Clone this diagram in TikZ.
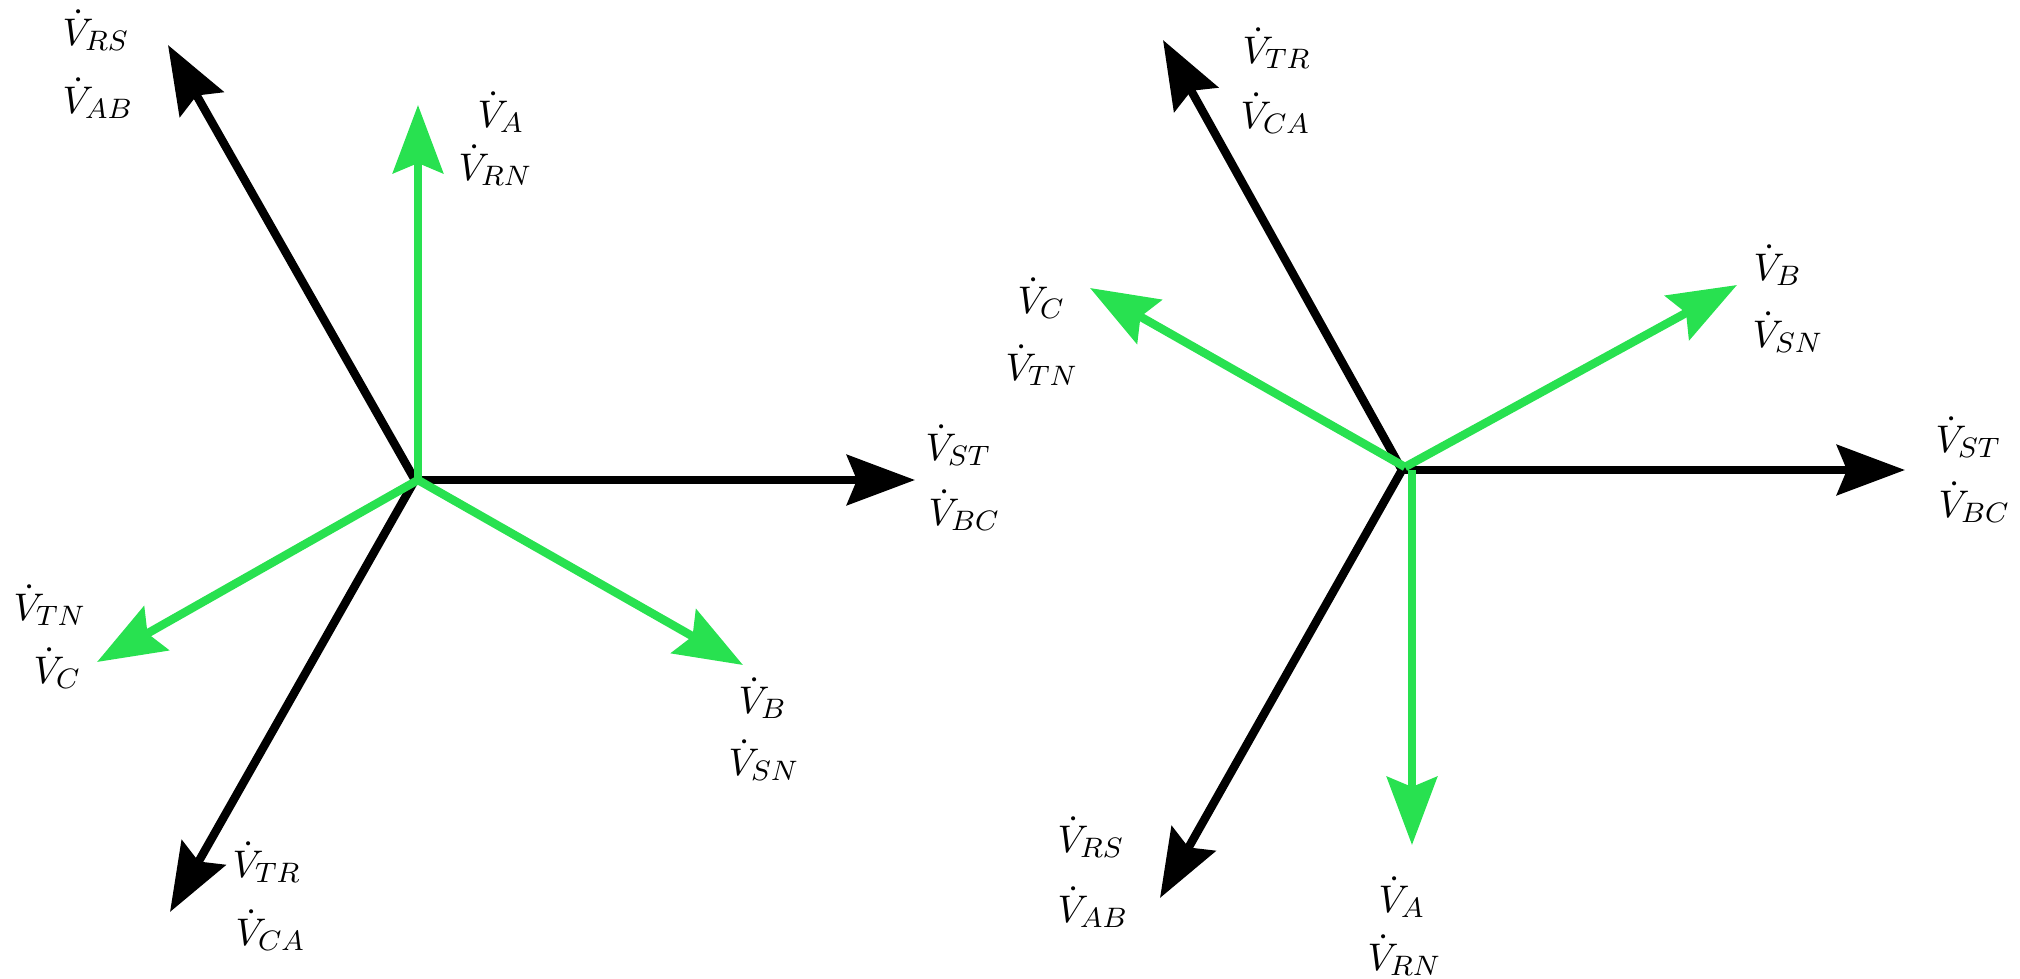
\documentclass[tikz,border=0pt]{standalone}
\usetikzlibrary{arrows.meta}
\definecolor{phgreen}{RGB}{40,225,80}
\begin{document}
\begin{tikzpicture}[x=0.01cm,y=-0.01cm,
  vec/.style={line width=2.4pt,-{Stealth[length=6.8mm,width=5mm,inset=1mm]}},
  blackvec/.style={vec,draw=black},
  greenvec/.style={vec,draw=phgreen},
  lbl/.style={anchor=base west,inner sep=0pt,font=\fontsize{11.3}{13.6}\selectfont}]
\useasboundingbox (0,0) rectangle (2020,978);
% ---------- left diagram ----------
\coordinate (O1) at (415,480);
\coordinate (G1) at (418,480);
\coordinate (L-RS) at (168,45);
\coordinate (L-ST) at (915,480);
\coordinate (L-TR) at (170,912);
\coordinate (L-A) at (418,105);
\coordinate (L-B) at (743,665);
\coordinate (L-C) at (97,662);
\draw[blackvec] (O1) -- (L-RS);
\draw[blackvec] (O1) -- (L-ST);
\draw[blackvec] (O1) -- (L-TR);
\draw[greenvec] (G1) -- (L-A);
\draw[greenvec] (G1) -- (L-B);
\draw[greenvec] (G1) -- (L-C);
\node[lbl] (l1) at (62,45) {$\dot V_{RS}$};
\node[lbl] (l2) at (62,113) {$\dot V_{AB}$};
\node[lbl] (l3) at (477,127) {$\dot V_{A}$};
\node[lbl] (l4) at (458,180) {$\dot V_{RN}$};
\node[lbl] (l5) at (925,460) {$\dot V_{ST}$};
\node[lbl] (l6) at (928,525) {$\dot V_{BC}$};
\node[lbl] (l7) at (13,620) {$\dot V_{TN}$};
\node[lbl] (l8) at (33,683) {$\dot V_{C}$};
\node[lbl] (l9) at (232,877) {$\dot V_{TR}$};
\node[lbl] (l10) at (235,945) {$\dot V_{CA}$};
\node[lbl] (l11) at (738,713) {$\dot V_{B}$};
\node[lbl] (l12) at (728,775) {$\dot V_{SN}$};
% ---------- right diagram ----------
\coordinate (O2) at (1402,470);
\coordinate (G2) at (1405,467);
\coordinate (G2a) at (1412,470);
\coordinate (R-TR) at (1163,40);
\coordinate (R-ST) at (1905,470);
\coordinate (R-RS) at (1160,898);
\coordinate (R-A) at (1412,845);
\coordinate (R-B) at (1737,285);
\coordinate (R-C) at (1090,288);
\draw[blackvec] (O2) -- (R-TR);
\draw[blackvec] (O2) -- (R-ST);
\draw[blackvec] (O2) -- (R-RS);
\draw[greenvec] (G2a) -- (R-A);
\draw[greenvec] (G2) -- (R-B);
\draw[greenvec] (G2) -- (R-C);
\node[lbl] (r1) at (1242,63) {$\dot V_{TR}$};
\node[lbl] (r2) at (1240,128) {$\dot V_{CA}$};
\node[lbl] (r3) at (1017,313) {$\dot V_{C}$};
\node[lbl] (r4) at (1005,380) {$\dot V_{TN}$};
\node[lbl] (r5) at (1753,280) {$\dot V_{B}$};
\node[lbl] (r6) at (1752,347) {$\dot V_{SN}$};
\node[lbl] (r7) at (1935,452) {$\dot V_{ST}$};
\node[lbl] (r8) at (1938,517) {$\dot V_{BC}$};
\node[lbl] (r9) at (1057,852) {$\dot V_{RS}$};
\node[lbl] (r10) at (1057,922) {$\dot V_{AB}$};
\node[lbl] (r11) at (1378,912) {$\dot V_{A}$};
\node[lbl] (r12) at (1367,970) {$\dot V_{RN}$};
\end{tikzpicture}
\end{document}
